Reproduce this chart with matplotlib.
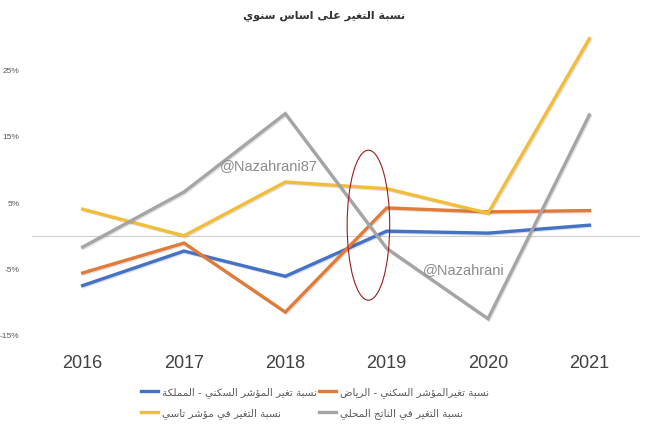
import matplotlib
matplotlib.use("Agg")
import matplotlib.pyplot as plt
from matplotlib.patches import Ellipse
import matplotlib.patheffects as pe

# ---------------- data ----------------
years = [2016, 2017, 2018, 2019, 2020, 2021]
kingdom = [-7.4, -2.2, -6.0, 0.8, 0.5, 1.7]      # blue
riyadh = [-5.5, -1.0, -11.4, 4.3, 3.7, 3.9]      # orange
tasi = [4.1, 0.1, 8.2, 7.2, 3.5, 29.8]           # yellow
gdp = [-1.6, 6.7, 18.5, -1.8, -12.4, 18.3]       # gray
yticks = [-15, -5, 5, 15, 25]
ytick_labels = ["-15%", "-5%", "5%", "15%", "25%"]

title_text = "نسبة التغير على اساس سنوي"
label_kingdom = "نسبة تغير المؤشر السكني - المملكة"
label_riyadh = "نسبة تغيرالمؤشر السكني - الرياض"
label_tasi = "نسبة التغير في مؤشر تاسي"
label_gdp = "نسبة التغير في الناتج المحلي"

# ---------------- minimal Arabic shaping ----------------
FORMS = {
    'ء': (0xFE80,), 'آ': (0xFE81, 0xFE82), 'أ': (0xFE83, 0xFE84), 'ؤ': (0xFE85, 0xFE86),
    'إ': (0xFE87, 0xFE88), 'ئ': (0xFE89, 0xFE8A, 0xFE8B, 0xFE8C), 'ا': (0xFE8D, 0xFE8E),
    'ب': (0xFE8F, 0xFE90, 0xFE91, 0xFE92), 'ة': (0xFE93, 0xFE94),
    'ت': (0xFE95, 0xFE96, 0xFE97, 0xFE98), 'ث': (0xFE99, 0xFE9A, 0xFE9B, 0xFE9C),
    'ج': (0xFE9D, 0xFE9E, 0xFE9F, 0xFEA0), 'ح': (0xFEA1, 0xFEA2, 0xFEA3, 0xFEA4),
    'خ': (0xFEA5, 0xFEA6, 0xFEA7, 0xFEA8), 'د': (0xFEA9, 0xFEAA), 'ذ': (0xFEAB, 0xFEAC),
    'ر': (0xFEAD, 0xFEAE), 'ز': (0xFEAF, 0xFEB0), 'س': (0xFEB1, 0xFEB2, 0xFEB3, 0xFEB4),
    'ش': (0xFEB5, 0xFEB6, 0xFEB7, 0xFEB8), 'ص': (0xFEB9, 0xFEBA, 0xFEBB, 0xFEBC),
    'ض': (0xFEBD, 0xFEBE, 0xFEBF, 0xFEC0), 'ط': (0xFEC1, 0xFEC2, 0xFEC3, 0xFEC4),
    'ظ': (0xFEC5, 0xFEC6, 0xFEC7, 0xFEC8), 'ع': (0xFEC9, 0xFECA, 0xFECB, 0xFECC),
    'غ': (0xFECD, 0xFECE, 0xFECF, 0xFED0), 'ف': (0xFED1, 0xFED2, 0xFED3, 0xFED4),
    'ق': (0xFED5, 0xFED6, 0xFED7, 0xFED8), 'ك': (0xFED9, 0xFEDA, 0xFEDB, 0xFEDC),
    'ل': (0xFEDD, 0xFEDE, 0xFEDF, 0xFEE0), 'م': (0xFEE1, 0xFEE2, 0xFEE3, 0xFEE4),
    'ن': (0xFEE5, 0xFEE6, 0xFEE7, 0xFEE8), 'ه': (0xFEE9, 0xFEEA, 0xFEEB, 0xFEEC),
    'و': (0xFEED, 0xFEEE), 'ى': (0xFEEF, 0xFEF0), 'ي': (0xFEF1, 0xFEF2, 0xFEF3, 0xFEF4),
}


def shape_arabic(text):
    chars = list(text)
    out = []
    n = len(chars)
    for i, c in enumerate(chars):
        if c not in FORMS:
            out.append(c)
            continue
        f = FORMS[c]
        prev = chars[i - 1] if i > 0 else None
        nxt = chars[i + 1] if i + 1 < n else None
        join_prev = prev in FORMS and len(FORMS[prev]) == 4
        join_next = len(f) == 4 and nxt in FORMS and len(FORMS[nxt]) > 1
        if len(f) == 1:
            out.append(chr(f[0]))
        elif join_prev and join_next:
            out.append(chr(f[3]))
        elif join_prev:
            out.append(chr(f[1]))
        elif join_next:
            out.append(chr(f[2]))
        else:
            out.append(chr(f[0]))
    return "".join(out)[::-1]


# ---------------- figure ----------------
W, H = 649, 430
fig = plt.figure(figsize=(W / 100, H / 100), dpi=100)
ax = fig.add_axes([32 / W, (430 - 336) / H, (640 - 32) / W, (336 - 34) / H])

colors = {"blue": "#4472C4", "orange": "#E07B39", "yellow": "#F2BE3A", "gray": "#A5A5A5"}
shadow = [pe.SimpleLineShadow(offset=(0.8, -0.8), shadow_color="#000000", alpha=0.12), pe.Normal()]

l1, = ax.plot(years, kingdom, color=colors["blue"], lw=2.4, solid_joinstyle="miter",
              label=shape_arabic(label_kingdom), path_effects=shadow, zorder=3)
l2, = ax.plot(years, riyadh, color=colors["orange"], lw=2.4, solid_joinstyle="miter",
              label=shape_arabic(label_riyadh), path_effects=shadow, zorder=3)
l3, = ax.plot(years, tasi, color=colors["yellow"], lw=2.4, solid_joinstyle="miter",
              label=shape_arabic(label_tasi), path_effects=shadow, zorder=3)
l4, = ax.plot(years, gdp, color=colors["gray"], lw=2.4, solid_joinstyle="miter",
              label=shape_arabic(label_gdp), path_effects=shadow, zorder=3)

ax.axhline(0, color="#d0d0d0", lw=0.8, zorder=1)

ax.set_xlim(2015.5, 2021.5)
ax.set_ylim(-15, 30.5)
ax.set_xticks(years)
ax.set_xticklabels([str(y) for y in years], fontsize=13, color="#404040",
                   family="Liberation Sans")
ax.set_yticks(yticks)
ax.set_yticklabels(ytick_labels, fontsize=6, color="#595959", family="Liberation Sans")
ax.tick_params(axis="x", length=0, pad=14)
ax.tick_params(axis="y", length=0, pad=9)
for s in ax.spines.values():
    s.set_visible(False)

# red ellipse highlight
ax.add_patch(Ellipse((2018.82, 1.7), 0.42, 22.6, fill=False, edgecolor="#9b1c1c", lw=0.8, zorder=4))

# watermarks
ax.text(2017.35, 10.6, "@Nazahrani87", fontsize=10.5, color="#8c8c8c", family="Liberation Sans",
        va="center", ha="left", zorder=5)
ax.text(2019.36, -5.1, "@Nazahrani", fontsize=10.5, color="#8c8c8c", family="Liberation Sans",
        va="center", ha="left", zorder=5)

# title
fig.text(0.5, 1 - 16 / H, shape_arabic(title_text), ha="center", va="center", fontsize=8,
         fontweight="bold", color="#333333", family="DejaVu Sans")

# legend
leg = fig.legend(handles=[l1, l3, l2, l4], ncol=2, loc="center left",
                 bbox_to_anchor=(132 / W, 1 - 403 / H), frameon=False,
                 prop={"family": "DejaVu Sans", "size": 7.5}, labelcolor="#595959",
                 handlelength=1.6, handletextpad=0.4, columnspacing=0.2, labelspacing=0.95)
for h in leg.legend_handles:
    h.set_path_effects([])
    h.set_linewidth(2.4)

fig.savefig("out.png", dpi=100)
